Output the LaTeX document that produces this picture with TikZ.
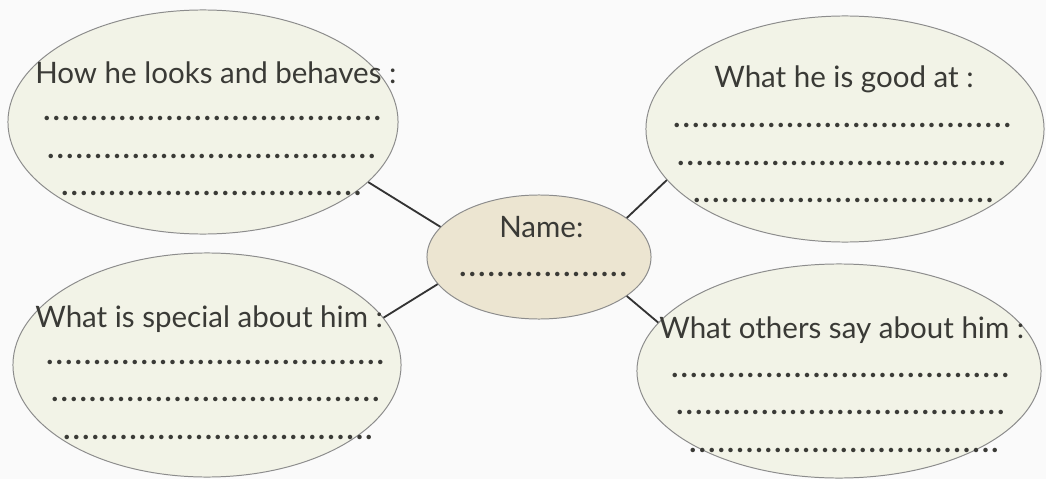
\documentclass[tikz,border=0pt]{standalone}
\usepackage{fontspec}
\setmainfont{Lato}
\usetikzlibrary{shapes.geometric}
\definecolor{paper}{HTML}{FAFAFA}
\definecolor{bubblefill}{HTML}{F2F3E7}
\definecolor{namefill}{HTML}{ECE5D1}
\definecolor{rim}{HTML}{8C8C8C}
\definecolor{ink}{HTML}{3A3A36}
\tikzset{
  bubble/.style={ellipse, draw=rim, line width=0.7pt, fill=bubblefill, inner sep=0pt},
  namebubble/.style={bubble, fill=namefill},
  heading/.style={anchor=base west, inner sep=0pt, text=ink, font=\fontsize{21}{25}\selectfont},
  dotline/.style={anchor=base west, inner sep=0pt, text=ink, font=\fontsize{21}{25}\selectfont\bfseries},
  link/.style={draw=black!80, line width=1.3pt}
}
\newcommand{\dotrow}[1]{\foreach \k in {1,...,#1}{\hbox to 6.7pt{\hss.\hss}}}
\begin{document}
\begin{tikzpicture}[x=0.025cm, y=-0.025cm]
  \fill[paper] (0,0) rectangle (1046,479);
  \useasboundingbox (0,0) rectangle (1046,479);

  % the five bubbles
  \node[bubble, minimum width=9.75cm, minimum height=5.6cm] (looks) at (203,122) {};
  \node[bubble, minimum width=9.95cm, minimum height=5.65cm] (good) at (845,129) {};
  \node[bubble, minimum width=9.7cm, minimum height=5.6cm] (special) at (207,365) {};
  \node[bubble, minimum width=10.1cm, minimum height=5.35cm] (others) at (839,371) {};
  \node[namebubble, minimum width=5.6cm, minimum height=3.1cm] (name) at (539,257) {};

  % links to the name
  \draw[link] (looks.-20) -- (name.163);
  \draw[link] (good.196) -- (name.24);
  \draw[link] (special.15) -- (name.195);
  \draw[link] (others.165) -- (name.-24);

  % how he looks
  \node[heading] (looksT) at (35,83) {How he looks and behaves :};
  \node[dotline] (looksA) at (42,120) {\dotrow{36}};
  \node[dotline] (looksB) at (46,158) {\dotrow{35}};
  \node[dotline] (looksC) at (60,195) {\dotrow{32}};

  % good at
  \node[heading] (goodT) at (714,88) {What he is good at :};
  \node[dotline] (goodA) at (672,127) {\dotrow{36}};
  \node[dotline] (goodB) at (676,165) {\dotrow{35}};
  \node[dotline] (goodC) at (692,202) {\dotrow{32}};

  % special
  \node[heading] (specialT) at (35,327) {What is special about him :};
  \node[dotline] (specialA) at (45,364) {\dotrow{36}};
  \node[dotline] (specialB) at (50,401) {\dotrow{35}};
  \node[dotline] (specialC) at (62,439) {\dotrow{33}};

  % others
  \node[heading] (othersT) at (659,338) {What others say about him :};
  \node[dotline] (othersA) at (670,377) {\dotrow{36}};
  \node[dotline] (othersB) at (675,414) {\dotrow{35}};
  \node[dotline] (othersC) at (688,452) {\dotrow{33}};

  % name
  \node[heading] (nameT) at (499,237) {Name:};
  \node[dotline] (nameA) at (458,276) {\dotrow{18}};
\end{tikzpicture}
\end{document}
